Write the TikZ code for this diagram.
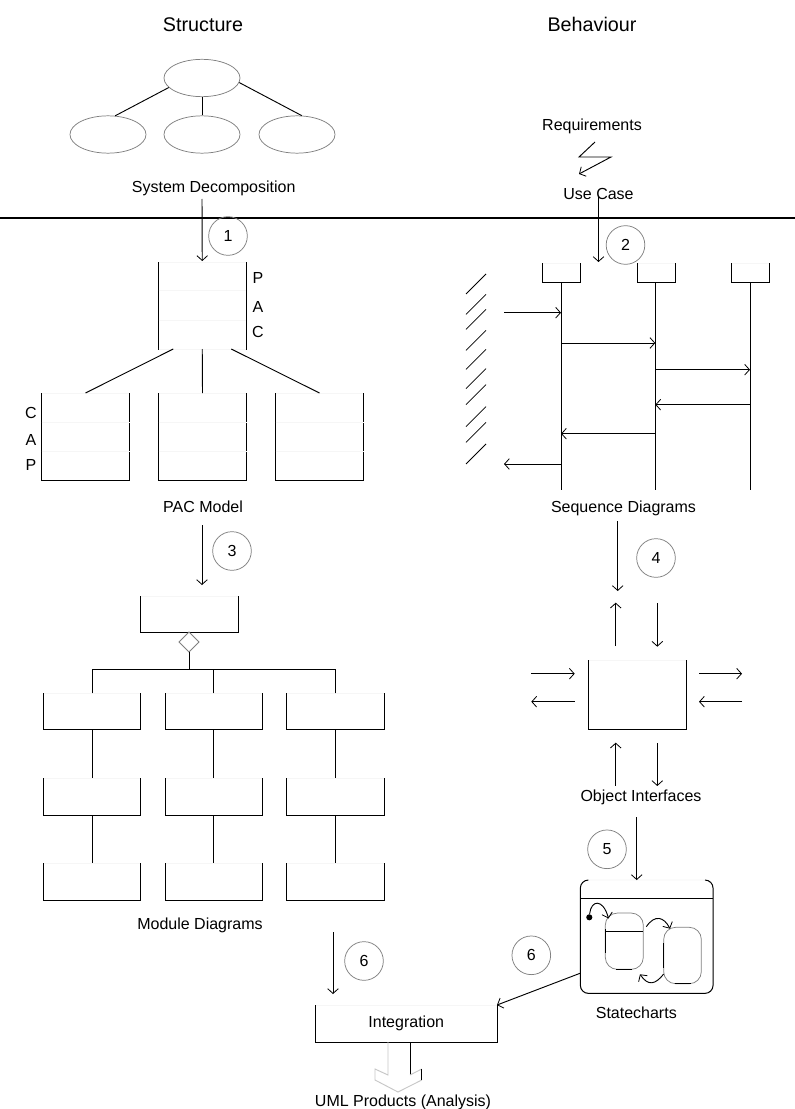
\documentclass[tikz,border=0pt]{standalone}
\usepackage{fontspec}
\setmainfont{Liberation Sans}
\usetikzlibrary{arrows.meta,calc,shapes.geometric}
\definecolor{faint}{HTML}{F6F6F6}
\definecolor{curvegray}{HTML}{808080}
\tikzset{
  x=0.75pt,y=-0.75pt,
  every path/.style={line width=0.7pt},
  lab/.style={font=\fontsize{12}{14}\selectfont,inner sep=0pt,text height=11.6pt,text depth=2.5pt},
  headline/.style={font=\fontsize{14.8}{17}\selectfont,inner sep=0pt,text height=13.6pt,text depth=3pt},
  arr/.style={-{Straight Barb[length=3.6pt,width=8pt,line width=0.6pt]}},
  num/.style={circle,draw=curvegray,line width=0.55pt,minimum size=29pt,inner sep=0pt,font=\fontsize{12}{14}\selectfont},
  obj/.style={ellipse,draw=curvegray,line width=0.55pt,minimum width=57pt,minimum height=28pt,inner sep=0pt},
  faintbox/.style={rectangle,draw=faint,line width=0.5pt,inner sep=0pt,outer sep=0pt,font=\fontsize{12}{14}\selectfont},
  sidelines/.style={black,line width=0.75pt},
  statebox/.style={rectangle,rounded corners=9pt,draw=curvegray,line width=0.55pt,inner sep=0pt,outer sep=0pt},
}
% box with three dark sides and a barely visible top: name, x1, y1, x2, y2, text
\newcommand{\ubox}[6]{%
  \pgfmathsetmacro{\ubw}{(#4-#2)*0.75}\pgfmathsetmacro{\ubh}{(#5-#3)*0.75}%
  \node[faintbox,minimum width=\ubw pt,minimum height=\ubh pt] (#1) at ({(#2+#4)/2},{(#3+#5)/2}) {#6};%
  \draw[sidelines] (#1.north west) -- (#1.south west) -- (#1.south east) -- (#1.north east);%
}
\begin{document}
\begin{tikzpicture}
\useasboundingbox (0,0) rectangle (795,1109);
\fill[white] (0,0) rectangle (795,1109);

% titles
\node[headline] (tstruct) at (203,24) {Structure};
\node[headline] (tbehav) at (592,24) {Behaviour};

% divider
\coordinate (divl) at (0,218);
\coordinate (divr) at (795,218);
\draw[line width=1.1pt] (divl) -- (divr);

% system decomposition
\node[obj] (et) at (202,78) {};
\node[obj] (el) at (108,134.5) {};
\node[obj] (em) at (202,134.5) {};
\node[obj] (er) at (297,134.5) {};
\draw (et.196) -- (el.69);
\draw (et.south) -- (em.north);
\draw (et.353) -- (er.76);
\node[lab] (sysdec) at (213.7,186) {System Decomposition};

% PAC top
\ubox{pac}{158.5}{262}{246}{349}{}
\draw[draw=white,line width=1pt] (pac.south west) -- (pac.south east);
\draw[faint,line width=0.5pt] (pac.south west) -- (pac.south east);
\draw[faint,line width=0.5pt] (158.5,290) -- (246,290);
\draw[faint,line width=0.5pt] (158.5,320) -- (246,320);
\node[lab] (lp) at (258,277) {P};
\node[lab] (la) at (258,306) {A};
\node[lab] (lc) at (258,331) {C};

% PAC children
\ubox{ca}{41.5}{393}{129.5}{480}{}
\ubox{cb}{158.5}{393}{246.5}{480}{}
\ubox{cc}{275.5}{393}{363.5}{480}{}
\foreach \yy in {422,451} {
  \draw[faint,line width=0.5pt] (41.5,\yy) -- (129.5,\yy);
  \draw[faint,line width=0.5pt] (158.5,\yy) -- (246.5,\yy);
  \draw[faint,line width=0.5pt] (275.5,\yy) -- (363.5,\yy);
}
\node[lab] (lc2) at (31,412) {C};
\node[lab] (la2) at (31,439) {A};
\node[lab] (lp2) at (31,464) {P};
\draw ($(pac.south)+(-29,0)$) -- (ca.north);
\draw (pac.south) -- (cb.north);
\draw ($(pac.south)+(29,0)$) -- (cc.north);
\node[lab] (pacm) at (203,506) {PAC Model};

% arrow 1
\coordinate (a1s) at (202,199);
\draw[arr] (a1s) -- ($(pac.north)+(0,-1)$);
\node[num] (n1) at (228,236) {1};

% arrow 3
\coordinate (a3s) at (202,525);
\coordinate (a3e) at (202,585);
\draw[arr] (a3s) -- (a3e);
\node[num] (n3) at (232,551) {3};

% module diagrams
\ubox{mtop}{140}{596}{238}{632}{}
\node[diamond,draw=curvegray,line width=0.6pt,minimum width=15pt,minimum height=15pt,inner sep=0pt,outer sep=0pt,fill=white] (dia) at (189,642) {};
\ubox{m11}{43.3}{693.3}{140.7}{729.3}{}
\ubox{m12}{165}{693.3}{262.3}{729.3}{}
\ubox{m13}{286.3}{693.3}{384}{729.3}{}
\ubox{m21}{43.3}{778.3}{140.7}{815.3}{}
\ubox{m22}{165}{778.3}{262.3}{815.3}{}
\ubox{m23}{286.3}{778.3}{384}{815.3}{}
\ubox{m31}{43.3}{863.3}{140.7}{900.3}{}
\ubox{m32}{165}{863.3}{262.3}{900.3}{}
\ubox{m33}{286.3}{863.3}{384}{900.3}{}
\coordinate (busj) at (189,669);
\draw (dia.south) -- (busj);
\draw (m11.north) |- (busj);
\draw (m13.north) |- (busj);
\draw (m12.north) -- (m12.north |- busj);
\draw (m11.south) -- (m21.north);
\draw (m12.south) -- (m22.north);
\draw (m13.south) -- (m23.north);
\draw (m21.south) -- (m31.north);
\draw (m22.south) -- (m32.north);
\draw (m23.south) -- (m33.north);
\node[lab] (modd) at (200,923) {Module Diagrams};

% arrow 6 left
\coordinate (a6s) at (333,932);
\coordinate (a6e) at (333,994);
\draw[arr] (a6s) -- (a6e);
\node[num] (n6a) at (364,961) {6};

% integration
\ubox{integ}{315.5}{1005}{497}{1042}{Integration}
\coordinate (bs1) at (388,1042);
\coordinate (bs2) at (410,1042);
\draw[draw=black!22] (bs1) -- (388,1075) -- (375,1069) -- (375,1080) -- (398,1092) -- (421.7,1080);
\draw[sidelines] (bs2) -- (410,1075);
\draw[draw=black!22] (410,1075) -- (421.7,1069);
\draw[sidelines] (421.7,1069) -- (421.7,1080);
\node[lab] (uml) at (403,1100) {UML Products (Analysis)};

% requirements
\node[lab] (req) at (592,124) {Requirements};
\coordinate (z1) at (595,142);
\coordinate (z2) at (579,157);
\coordinate (z3) at (611,157);
\coordinate (z4) at (579,174);
\draw[arr] (z1) -- (z2) -- (z3) -- (z4);
\node[lab] (uc) at (598.5,193) {Use Case};

% arrow 2
\coordinate (a2s) at (598.5,197);
\coordinate (a2e) at (598.5,262);
\draw[arr] (a2s) -- (a2e);
\node[num] (n2) at (625.5,245) {2};

% sequence heads
\ubox{h1}{542.3}{263}{580.7}{282.3}{}
\ubox{h2}{637.3}{263}{675.7}{282.3}{}
\ubox{h3}{731.3}{263}{769.7}{282.3}{}
\coordinate (e1) at (561,490);
\coordinate (e2) at (655.3,490);
\coordinate (e3) at (750,490);
\draw (h1.south -| e1) -- (e1);
\draw (h2.south -| e2) -- (e2);
\draw (h3.south -| e3) -- (e3);

% hatching
\foreach \yy in {294,314.3,329.3,350.3,369.3,388.7,404.7,426.7,442.3,464}
  \draw[line width=0.55pt] (466,\yy) -- (486,\yy-20);

% messages
\coordinate (actin) at (504,312.7);
\coordinate (actout) at (504,464);
\draw[arr] (actin) -- (actin -| e1);
\coordinate (m2s) at (561,343);
\draw[arr] (m2s) -- (m2s -| e2);
\coordinate (m3s) at (655.3,369.7);
\draw[arr] (m3s) -- (m3s -| e3);
\coordinate (m4s) at (750,404.7);
\draw[arr] (m4s) -- (m4s -| e2);
\coordinate (m5s) at (655.3,433.7);
\draw[arr] (m5s) -- (m5s -| e1);
\coordinate (m6s) at (561,464);
\draw[arr] (m6s) -- (actout);
\node[lab] (seqd) at (623.5,506) {Sequence Diagrams};

% arrow 4
\coordinate (a4s) at (617.7,521);
\coordinate (a4e) at (617.7,591);
\draw[arr] (a4s) -- (a4e);
\node[num] (n4) at (656,558) {4};

% object interfaces
\ubox{objb}{588.3}{660}{686}{729.3}{}
\coordinate (u1a) at (615.7,646); \coordinate (u1b) at (615.7,602.7);
\coordinate (d1a) at (657.3,603); \coordinate (d1b) at (657.3,646.7);
\coordinate (u2a) at (615.7,785.7); \coordinate (u2b) at (615.7,742.7);
\coordinate (d2a) at (657.3,743.3); \coordinate (d2b) at (657.3,786);
\coordinate (l1a) at (531.3,673.7); \coordinate (l1b) at (574.7,673.7);
\coordinate (l2a) at (574.7,701.7); \coordinate (l2b) at (531.3,701.7);
\coordinate (r1a) at (699,673.7); \coordinate (r1b) at (742,673.7);
\coordinate (r2a) at (742,701.7); \coordinate (r2b) at (699,701.7);
\foreach \pa/\pb in {u1a/u1b,d1a/d1b,u2a/u2b,d2a/d2b,l1a/l1b,l2a/l2b,r1a/r1b,r2a/r2b}
  \draw[arr] (\pa) -- (\pb);
\node[lab] (oint) at (641,795.7) {Object Interfaces};

% statechart
\node[statebox,draw=faint,rounded corners=6pt,minimum width=99.5pt,minimum height=85pt] (sc) at (646.7,936.7) {};
\draw[sidelines,rounded corners=6pt] ($(sc.north west)+(8,0)$) -- (sc.north west) -- (sc.south west) -- (sc.south east) -- (sc.north east) -- ($(sc.north east)+(-8,0)$);
\coordinate (hdl) at (580.3,898.7);
\coordinate (hdr) at (713,898.7);
\draw (hdl) -- (hdr);
\coordinate (a5s) at (636.7,817);
\draw[arr] (a5s) -- (sc.north -| a5s);
\node[num] (n5) at (607,849.3) {5};
\node[lab] (stc) at (636.3,1012) {Statecharts};

\node[circle,fill=black,minimum size=4.6pt,inner sep=0pt] (dot) at (589.3,917.3) {};
\node[statebox,minimum width=28.5pt,minimum height=42.2pt] (s1) at (624.3,941.2) {};
\node[statebox,minimum width=28.2pt,minimum height=42.3pt] (s2) at (682.5,955.5) {};
\draw[sidelines] ($(s1.north west)+(0,16)$) -- ($(s1.south west)+(0,-16)$);
\draw[sidelines] ($(s2.north west)+(0,16)$) -- ($(s2.south west)+(0,-16)$);
\draw[sidelines] ($(s1.south)+(-8,0)$) -- ($(s1.south)+(8,0)$);
\draw[sidelines] ($(s2.south)+(-8,0)$) -- ($(s2.south)+(8,0)$);
\coordinate (s1sl) at (605.3,931.7);
\coordinate (s1sr) at (643.3,931.7);
\draw (s1sl) -- (s1sr);
\coordinate (t1e) at (608.5,918.5);
\draw[arr] (dot) .. controls (591,900) and (603,898) .. (t1e);
\coordinate (t2s) at (646.3,926.7);
\coordinate (t2e) at (670,928.7);
\draw[arr] (t2s) .. controls (655,914) and (664,917) .. (t2e);
\coordinate (t3s) at (663.7,974);
\coordinate (t3e) at (640,974.3);
\draw[arr] (t3s) .. controls (655,985) and (648,986) .. (t3e);

% arrow 6 right
\coordinate (a6rs) at (580,973.3);
\draw[arr] (a6rs) -- (integ.north east);
\node[num] (n6b) at (531.3,955.3) {6};
\end{tikzpicture}
\end{document}
